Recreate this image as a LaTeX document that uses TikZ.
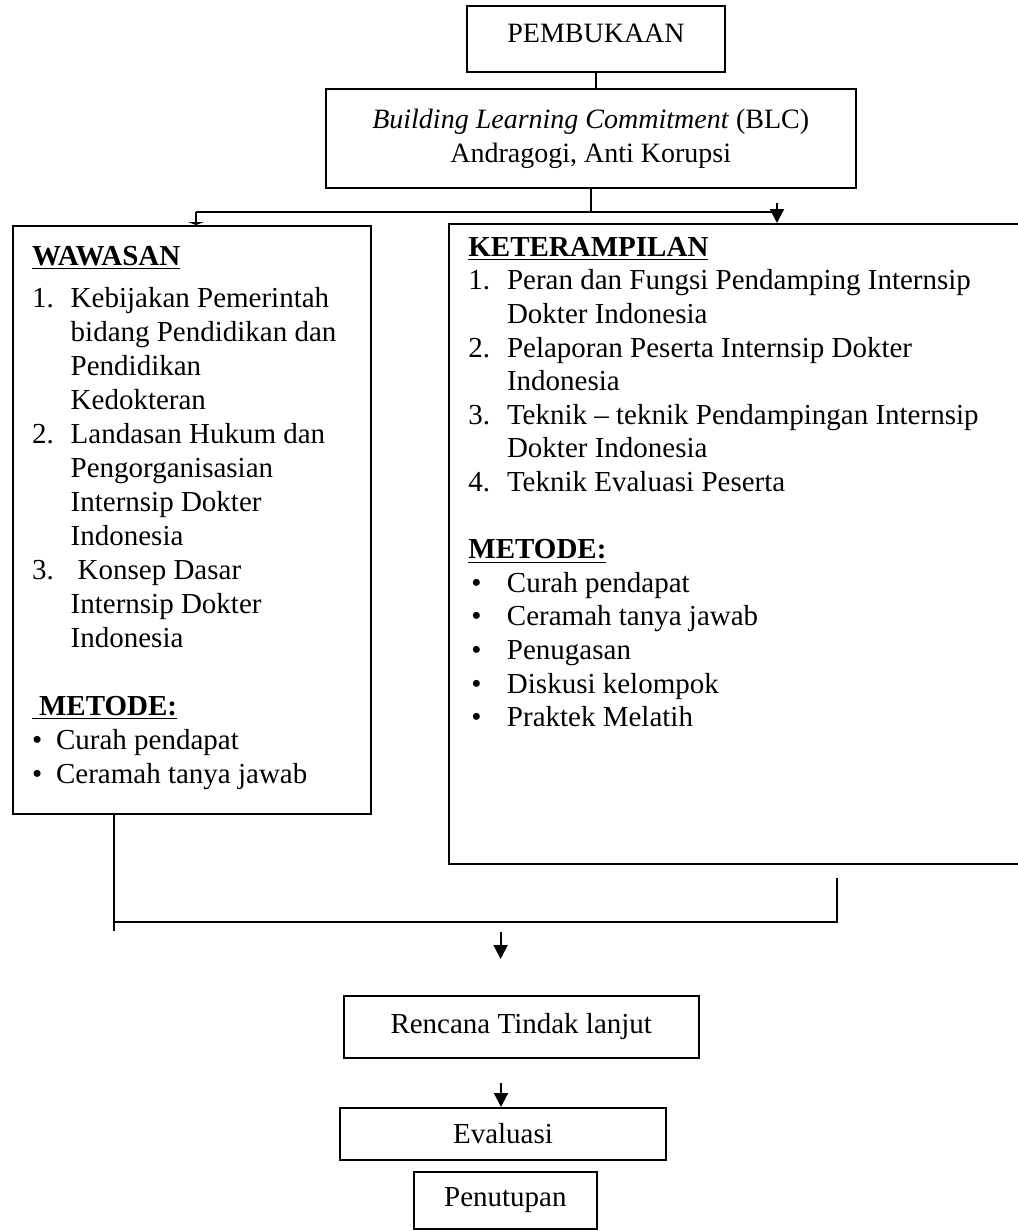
\documentclass[tikz,border=0pt]{standalone}
\usepackage{fontspec}
\setmainfont{Liberation Serif}
\usetikzlibrary{arrows.meta}

\newcommand{\nomor}[1]{\makebox[19.3pt][l]{#1}}
\newcommand{\lekuk}{\hspace*{19.3pt}}
\newcommand{\judul}[1]{\underline{\textbf{#1}}}

\begin{document}
\begin{tikzpicture}[x=0.5pt,y=-0.5pt,
    font=\fontsize{14.5}{16.8}\selectfont,
    kotak/.style={draw,line width=1pt,inner sep=0pt,minimum width=#1},
    isi/.style={anchor=base west,align=left,inner sep=0pt},
    garis/.style={line width=1pt},
    panah/.style={line width=1pt,-{Triangle[length=7pt,width=7pt]}},
    tumpul/.style={line width=1pt,-{Triangle[length=1.5pt,width=8pt]}}]
\useasboundingbox (0,0) rectangle (1017,1231);

\node[kotak=129pt,minimum height=33pt,text depth=5.5pt,font=\fontsize{14}{16.8}\selectfont] (buka) at (596,39) {PEMBUKAAN};
\node[kotak=265.25pt,minimum height=49.5pt,align=center,font=\fontsize{14}{17}\selectfont] (blc) at (590.75,138.5)
    {\textit{Building Learning Commitment} (BLC)\\Andragogi, Anti Korupsi};

\node[kotak=179.15pt,minimum height=294pt,anchor=north west] (wawasan) at (11.7,225) {};
\node[kotak=287.25pt,minimum height=320pt,anchor=north west] (terampil) at (447.5,223) {};

\node[isi,font=\fontsize{14.5}{17}\selectfont] (wawasanisi) at (31.7,783) {\judul{WAWASAN}\\[3.8pt]
    \nomor{1.}Kebijakan Pemerintah\\
    \lekuk bidang Pendidikan dan\\
    \lekuk Pendidikan\\
    \lekuk Kedokteran\\
    \nomor{2.}Landasan Hukum dan\\
    \lekuk Pengorganisasian\\
    \lekuk Internsip Dokter\\
    \lekuk Indonesia\\
    \nomor{3.}\hspace{3.5pt}Konsep Dasar\\
    \lekuk Internsip Dokter\\
    \lekuk Indonesia\\[17pt]
    \judul{\hspace*{3.5pt}METODE:}\\
    \makebox[12pt][l]{\textbullet}Curah pendapat\\
    \makebox[12pt][l]{\textbullet}Ceramah tanya jawab};

\node[isi] (terampilisi) at (468,726.7) {\judul{KETERAMPILAN}\\
    \nomor{1.}Peran dan Fungsi Pendamping Internsip\\
    \lekuk Dokter Indonesia\\
    \nomor{2.}Pelaporan Peserta Internsip Dokter\\
    \lekuk Indonesia\\
    \nomor{3.}Teknik -- teknik Pendampingan Internsip\\
    \lekuk Dokter Indonesia\\
    \nomor{4.}Teknik Evaluasi Peserta\\[16.8pt]
    \judul{METODE:}\\
    \nomor{\hspace*{1.5pt}\textbullet}Curah pendapat\\
    \nomor{\hspace*{1.5pt}\textbullet}Ceramah tanya jawab\\
    \nomor{\hspace*{1.5pt}\textbullet}Penugasan\\
    \nomor{\hspace*{1.5pt}\textbullet}Diskusi kelompok\\
    \nomor{\hspace*{1.5pt}\textbullet}Praktek Melatih};

\node[kotak=177.25pt,minimum height=31pt] (rencana) at (521.25,1026.6) {Rencana Tindak lanjut};
\node[kotak=163pt,minimum height=26pt] (evaluasi) at (503,1134) {Evaluasi};
\node[kotak=91.65pt,minimum height=28.75pt] (tutup) at (505.35,1200.5) {Penutupan};

\coordinate (cabangkiri) at (196,212);
\coordinate (cabangkanan) at (781,212);
\coordinate (pangkalkanan) at (777,203);
\coordinate (kakikiri) at (113.5,931);
\coordinate (sikukiri) at (113.5,922);
\coordinate (sikukanan) at (836.6,922);
\coordinate (ujungkanan) at (836.6,878);
\coordinate (pangkaltengah) at (500.6,931.5);
\coordinate (ujungtengah) at (500.6,959);
\coordinate (pangkalbawah) at (501,1083);

\draw[garis] (buka.south) -- (buka.south |- blc.north);
\draw[garis] (blc.south) -- (blc.south |- cabangkiri);
\draw[garis] (cabangkiri) -- (cabangkanan);
\draw[tumpul] (cabangkiri) -- (cabangkiri |- wawasan.north);
\draw[panah] (pangkalkanan) -- (pangkalkanan |- terampil.north);

\draw[garis] (wawasan.south -| kakikiri) -- (kakikiri);
\draw[garis] (sikukiri) -- (sikukanan) -- (ujungkanan);
\draw[panah] (pangkaltengah) -- (ujungtengah);
\draw[panah] (pangkalbawah) -- (pangkalbawah |- evaluasi.north);
\end{tikzpicture}
\end{document}
